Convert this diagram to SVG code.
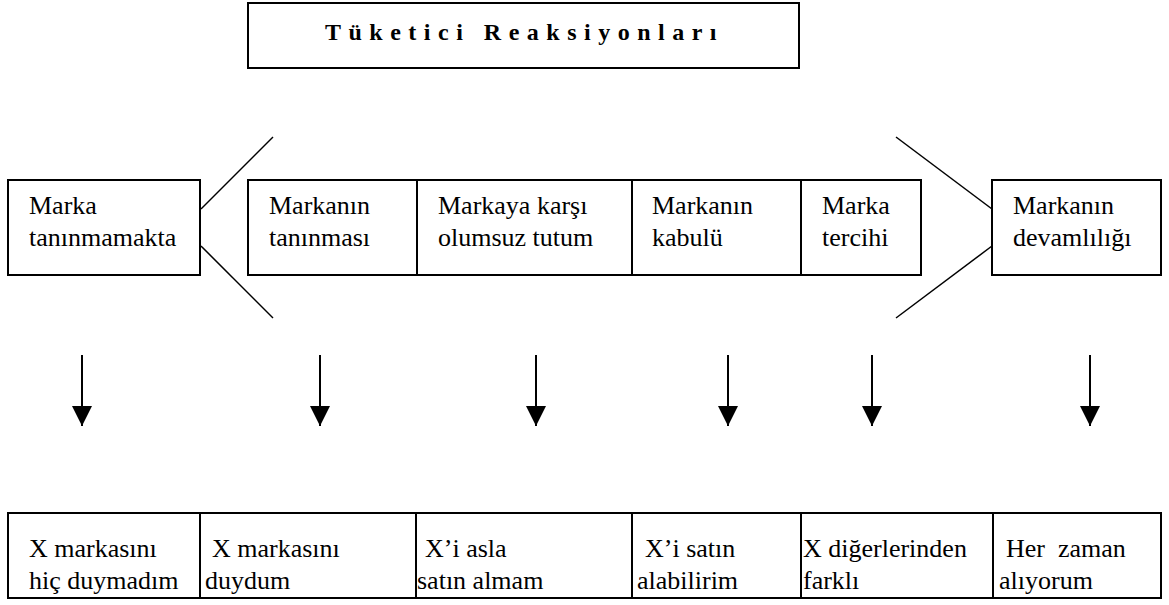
<svg xmlns="http://www.w3.org/2000/svg" width="1169" height="605" viewBox="0 0 1169 605">
  <style>
    .box { fill: #fff; stroke: #000; stroke-width: 2; }
    .div { stroke: #000; stroke-width: 2; }
    .txt { font-family: 'Liberation Serif', 'Times New Roman', serif; font-size: 26px; fill: #000; }
    .title { font-family: 'Liberation Serif', 'Times New Roman', serif; font-size: 24px; font-weight: bold; letter-spacing: 7.5px; fill: #000; }
    .ln { stroke: #000; stroke-width: 1.5; fill: none; }
    .shaft { stroke: #000; stroke-width: 2; }
  </style>
  <defs>
    <marker id="head" markerWidth="20" markerHeight="20" viewBox="0 0 20 20" refX="20" refY="10" markerUnits="userSpaceOnUse" orient="auto">
      <path d="M0,0 L20,10 L0,20 Z" fill="#000"/>
    </marker>
  </defs>
  <rect width="1169" height="605" fill="#fff"/>

  <!-- title -->
  <g id="title">
    <rect class="box" x="248" y="3" width="551" height="65"/>
    <text class="title" x="325" y="40">Tüketici Reaksiyonları</text>
  </g>

  <!-- stage boxes -->
  <g id="stage-unknown">
    <rect class="box" x="8" y="180" width="192" height="95"/>
    <text class="txt" x="29" y="214">Marka</text>
    <text class="txt" x="29" y="246">tanınmamakta</text>
  </g>
  <g id="stage-middle">
    <rect class="box" x="248" y="180" width="673" height="95"/>
    <line class="div" x1="417" y1="180" x2="417" y2="275"/>
    <line class="div" x1="632" y1="180" x2="632" y2="275"/>
    <line class="div" x1="801" y1="180" x2="801" y2="275"/>
  </g>
  <g id="stage-recognition">
    <text class="txt" x="269" y="214">Markanın</text>
    <text class="txt" x="269" y="246">tanınması</text>
  </g>
  <g id="stage-negative">
    <text class="txt" x="438" y="214">Markaya karşı</text>
    <text class="txt" x="438" y="246">olumsuz tutum</text>
  </g>
  <g id="stage-acceptance">
    <text class="txt" x="652" y="214">Markanın</text>
    <text class="txt" x="652" y="246">kabulü</text>
  </g>
  <g id="stage-preference">
    <text class="txt" x="822" y="214">Marka</text>
    <text class="txt" x="822" y="246">tercihi</text>
  </g>
  <g id="stage-loyalty">
    <rect class="box" x="992" y="180" width="169" height="95"/>
    <text class="txt" x="1013" y="214">Markanın</text>
    <text class="txt" x="1013" y="246">devamlılığı</text>
  </g>

  <!-- bracket lines and arrows -->
  <g id="connectors">
    <line class="ln" x1="201" y1="209" x2="273" y2="137"/>
    <line class="ln" x1="201" y1="246" x2="273" y2="318"/>
    <line class="ln" x1="896" y1="137" x2="992" y2="209"/>
    <line class="ln" x1="896" y1="318" x2="992" y2="246"/>

    <line class="shaft" x1="82" y1="355" x2="82" y2="426" marker-end="url(#head)"/>
    <line class="shaft" x1="320" y1="355" x2="320" y2="426" marker-end="url(#head)"/>
    <line class="shaft" x1="536" y1="355" x2="536" y2="426" marker-end="url(#head)"/>
    <line class="shaft" x1="728" y1="355" x2="728" y2="426" marker-end="url(#head)"/>
    <line class="shaft" x1="872" y1="355" x2="872" y2="426" marker-end="url(#head)"/>
    <line class="shaft" x1="1090" y1="355" x2="1090" y2="426" marker-end="url(#head)"/>
  </g>

  <!-- response table -->
  <g id="responses">
    <rect class="box" x="8" y="513" width="1153" height="85"/>
    <line class="div" x1="200" y1="513" x2="200" y2="598"/>
    <line class="div" x1="416" y1="513" x2="416" y2="598"/>
    <line class="div" x1="632" y1="513" x2="632" y2="598"/>
    <line class="div" x1="801" y1="513" x2="801" y2="598"/>
    <line class="div" x1="993" y1="513" x2="993" y2="598"/>
  </g>
  <g id="resp-1">
    <text class="txt" x="29" y="557">X markasını</text>
    <text class="txt" x="29" y="589">hiç duymadım</text>
  </g>
  <g id="resp-2">
    <text class="txt" x="212" y="557">X markasını</text>
    <text class="txt" x="205" y="589">duydum</text>
  </g>
  <g id="resp-3">
    <text class="txt" x="425" y="557">X’i asla</text>
    <text class="txt" x="417" y="589">satın almam</text>
  </g>
  <g id="resp-4">
    <text class="txt" x="645" y="557">X’i satın</text>
    <text class="txt" x="637" y="589">alabilirim</text>
  </g>
  <g id="resp-5">
    <text class="txt" x="803" y="557">X diğerlerinden</text>
    <text class="txt" x="803" y="589">farklı</text>
  </g>
  <g id="resp-6">
    <text class="txt" x="1006" y="557" xml:space="preserve">Her  zaman</text>
    <text class="txt" x="999" y="589">alıyorum</text>
  </g>
</svg>
